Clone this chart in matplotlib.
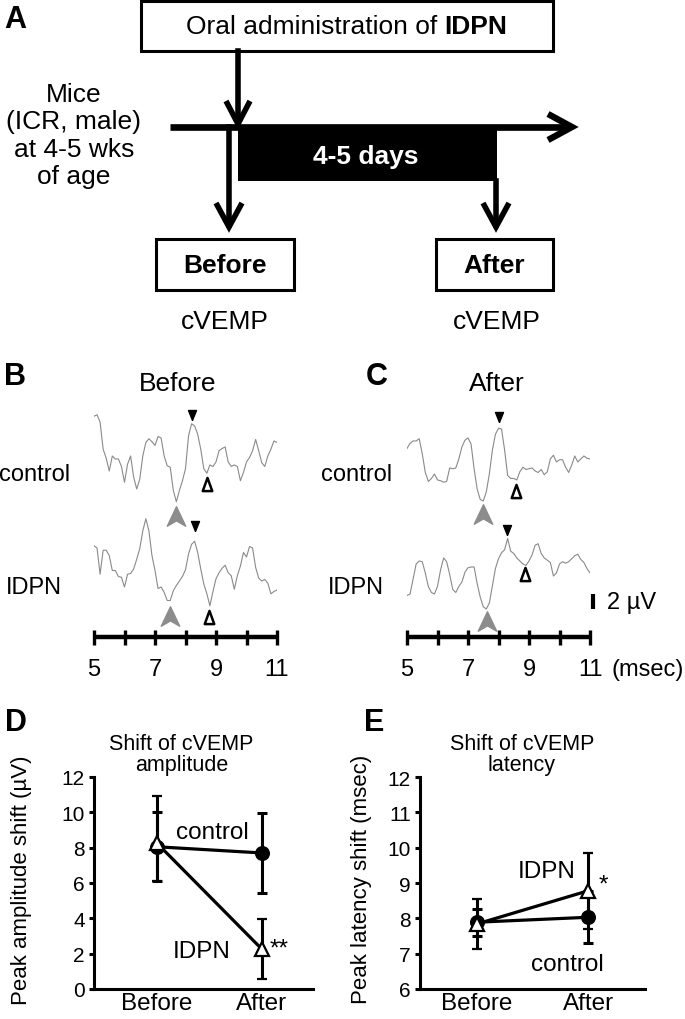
import numpy as np
import matplotlib
matplotlib.use("Agg")
import matplotlib.pyplot as plt
from matplotlib.patches import Rectangle
from matplotlib.path import Path

plt.rcParams['font.family'] = ['Liberation Sans', 'DejaVu Sans']

# --- cVEMP traces (uV), sampled every 0.1 ms between 5 and 11 ms ---
trace_t = np.round(np.arange(5.0, 11.01, 0.1), 2)

before_control = [5.7, 5.9, 4.9, 1.3, 0.1, -1.6, 0.4, 0.0, 0.0, -1.0,
                  -3.1, -0.7, 0.4, -2.4, -4.0, -2.7, 0.4, 2.2, 2.7, 2.3,
                  1.8, 3.0, 2.8, 0.4, -0.9, -1.1, -4.2, -5.7, -4.2, -2.9,
                  -1.3, 3.1, 4.7, 4.4, 3.3, 1.3, -1.3, -1.9, -0.8, -1.0,
                  -0.4, 1.1, 1.4, 1.6, -0.4, -1.0, -0.8, -1.0, -2.9, -1.8,
                  -0.4, 0.2, 1.1, 2.6, 1.1, -0.5, -1.0, 0.4, 1.3, 2.4, 2.2]
before_idpn = [3.1, 2.8, -0.7, 2.5, 2.5, 1.8, -0.2, -0.2, -1.0, -1.1,
               -2.4, -0.7, -0.6, 0.0, 1.3, 2.7, 5.1, 6.7, 5.1, 1.8,
               -0.2, -2.6, -2.4, -3.1, -4.2, -4.2, -2.9, -2.2, -1.6, -1.0,
               -0.1, 2.0, 3.3, 3.7, 2.2, 0.0, -2.0, -3.3, -4.9, -3.0,
               -1.3, -0.5, 0.1, 0.5, -0.5, -0.9, -2.7, -0.9, 0.4, 2.2,
               1.6, 3.0, 2.8, 0.2, -1.2, -1.6, -1.4, -1.9, -3.3, -3.0, -2.8]
after_control = [1.4, 2.1, 2.4, 2.4, 2.7, 0.7, -1.8, -3.0, -2.6, -2.0,
                 -2.8, -2.9, -3.1, -3.0, -1.2, -1.3, -1.2, 0.0, 1.6, 2.5,
                 2.8, 2.0, -1.3, -4.0, -5.4, -5.6, -4.4, -2.0, 1.2, 3.3,
                 4.1, 4.0, 1.2, -2.2, -2.6, -2.6, -2.8, -1.7, -1.1, -1.4,
                 -1.3, -1.2, -1.6, -1.8, -1.4, -2.1, -1.7, 0.0, 0.5, -0.4,
                 -0.1, -0.1, -1.1, -1.8, -0.8, 0.4, -0.4, 0.0, 0.4, 0.1, 0.0]
after_idpn = [-2.6, -2.4, -0.4, 1.6, 2.0, 1.9, 0.4, -1.4, -2.2, -2.4,
              -1.4, 0.8, 2.4, 1.9, 0.2, -1.8, -2.2, -1.4, -0.8, 0.5,
              1.1, 1.2, 1.2, -1.0, -2.8, -4.1, -4.4, -3.6, -1.3, 1.0,
              2.3, 3.1, 3.5, 5.0, 3.3, 3.0, 2.4, 2.0, 1.6, 1.4,
              2.0, 2.8, 4.1, 4.3, 3.0, 2.4, 2.1, 1.8, 0.0, 0.4,
              1.6, 1.9, 1.7, 1.9, 2.3, 2.7, 2.9, 2.2, 1.8, 1.0, 0.4]

# marker positions: (before ctrl, before idpn, after ctrl, after idpn)
peak_t = [8.21, 8.31, 8.02, 8.28]
peak_v = [5.9, 5.7, 5.6, 6.1]
trough_t = [8.70, 8.77, 8.57, 8.87]
trough_v = [-3.3, -6.4, -4.3, 0.3]
onset_t = [7.69, 7.49, 7.49, 7.62]
onset_v = [-7.6, -6.3, -7.3, -6.0]

time_ticks = [5, 6, 7, 8, 9, 10, 11]
time_labels = [5, 7, 9, 11]

# --- shift panels ---
groups = ['Before', 'After']
amp_control = [8.05, 7.7]
amp_control_err = [1.95, 2.25]
amp_idpn = [8.25, 2.25]
amp_idpn_err_lo = [2.15, 1.7]
amp_idpn_err_hi = [2.65, 1.7]
lat_control = [7.89, 8.03]
lat_control_err = [0.38, 0.73]
lat_idpn = [7.84, 8.78]
lat_idpn_err = [0.72, 1.08]

W, H = 685, 1020
fig = plt.figure(figsize=(6.85, 10.2), dpi=100)

# full-figure canvas in pixel coordinates for the schematic and labels
ax0 = fig.add_axes([0, 0, 1, 1])
ax0.set_xlim(0, W)
ax0.set_ylim(H, 0)
ax0.axis('off')

FS = 17
FSA = 19
BOLD_LBL = dict(fontsize=22, fontweight='bold', ha='center', va='center')


def chevron(ax, pts, lw):
    xs, ys = zip(*pts)
    ax.plot(xs, ys, color='black', lw=lw, solid_joinstyle='miter',
            solid_capstyle='butt')


# ---- Panel A ----
ax0.text(15, 20, 'A', **BOLD_LBL)
ax0.add_patch(Rectangle((141, 2), 412, 50, fill=False, lw=2.2, ec='black'))
t1 = ax0.text(186, 27, 'Oral administration of ', fontsize=FSA,
              ha='left', va='center')
ax0.annotate('IDPN', xy=(1, 0), xycoords=t1, fontsize=FSA,
             fontweight='bold', ha='left', va='bottom')

ax0.plot([238, 238], [52, 124], color='black', lw=4.0)
chevron(ax0, [(226, 102), (238, 125), (250, 102)], 4.0)

ax0.text(74, 136, 'Mice\n(ICR, male)\nat 4-5 wks\nof age', fontsize=FSA,
         ha='center', va='center', multialignment='center', linespacing=1.17)

ax0.plot([170, 570], [128, 128], color='black', lw=4.8,
         solid_capstyle='butt')
chevron(ax0, [(548, 115), (572, 128), (548, 141)], 4.6)
ax0.add_patch(Rectangle((238, 128), 259, 54, color='black', lw=0))
ax0.text(366, 157, '4-5 days', fontsize=19, fontweight='bold',
         color='white', ha='center', va='center')

ax0.plot([229, 229], [128, 226], color='black', lw=4.0)
chevron(ax0, [(216, 204), (229, 228), (242, 204)], 4.0)
ax0.plot([496, 496], [182, 226], color='black', lw=4.0)
chevron(ax0, [(483, 204), (496, 228), (509, 204)], 4.0)

ax0.add_patch(Rectangle((156, 240), 138, 51, fill=False, lw=2.2, ec='black'))
ax0.add_patch(Rectangle((436, 240), 117, 51, fill=False, lw=2.2, ec='black'))
ax0.text(225, 266, 'Before', fontsize=FSA, fontweight='bold',
         ha='center', va='center')
ax0.text(494, 266, 'After', fontsize=FSA, fontweight='bold',
         ha='center', va='center')
ax0.text(225, 322, 'cVEMP', fontsize=FSA, ha='center', va='center')
ax0.text(497, 322, 'cVEMP', fontsize=FSA, ha='center', va='center')

# ---- Panels B and C labels ----
ax0.text(15, 377, 'B', **BOLD_LBL)
ax0.text(377, 377, 'C', **BOLD_LBL)
ax0.text(178, 384, 'Before', fontsize=FSA, ha='center', va='center')
ax0.text(497, 384, 'After', fontsize=FSA, ha='center', va='center')
for xc in (35, 357):
    ax0.text(xc, 475, 'control', fontsize=FS, ha='center', va='center')
    ax0.text(xc - 1, 588, 'IDPN', fontsize=FS, ha='center', va='center')
ax0.text(16, 723, 'D', **BOLD_LBL)
ax0.text(374, 723, 'E', **BOLD_LBL)

# custom markers
m_peak = Path([(0, -1), (-0.8, 1), (0.8, 1), (0, -1)])
m_trough = Path([(0, 1), (-0.72, -1), (0.72, -1), (0, 1)],
                [Path.MOVETO, Path.LINETO, Path.LINETO, Path.CLOSEPOLY])
m_onset = Path([(0, 1), (0.95, -1), (0, -0.45), (-0.95, -1), (0, 1)],
               [Path.MOVETO, Path.LINETO, Path.LINETO, Path.LINETO,
                Path.CLOSEPOLY])

PX_PER_UV = 7.5
TOP, BOT = 395, 690
ytop = (BOT - TOP) / PX_PER_UV


def trace_axes(left_px, traces, bases, idx):
    ax = fig.add_axes([left_px / W, (H - BOT) / H, 183 / W, (BOT - TOP) / H])
    ax.set_xlim(5, 11)
    ax.set_ylim(0, ytop)
    ax.axis('off')
    for tr, base, i in zip(traces, bases, idx):
        ax.plot(trace_t, np.array(tr) + base, color='#8a8a8a', lw=0.8)
        ax.plot(peak_t[i], peak_v[i] + base, marker=m_peak, ms=7.2,
                color='black', ls='none')
        ax.plot(trough_t[i], trough_v[i] + base, marker=m_trough, ms=9.5,
                mfc='white', mec='black', mew=1.8, ls='none')
        ax.plot(onset_t[i], onset_v[i] + base, marker=m_onset, ms=14,
                color='#8c8c8c', mec='#8c8c8c', ls='none', clip_on=False)
    bar_y = (BOT - 638) / PX_PER_UV
    ax.plot([5, 11], [bar_y, bar_y], color='black', lw=3.2,
            solid_capstyle='butt', clip_on=False)
    for tk in time_ticks:
        ax.plot([tk, tk], [bar_y - 1, bar_y + 1], color='black', lw=2.4,
                solid_capstyle='butt', clip_on=False)
    lab_y = (BOT - 670) / PX_PER_UV
    for tk in time_labels:
        ax.text(tk, lab_y, str(tk), fontsize=FS, ha='center', va='center')
    return ax, lab_y


axB, _ = trace_axes(94, [before_control, before_idpn], [30.67, 16.0], [0, 1])
axC, lab_y = trace_axes(407, [after_control, after_idpn], [30.67, 15.07], [2, 3])
axC.plot([11.1, 11.1], [10.67, 12.67], color='black', lw=3.0,
         solid_capstyle='butt', clip_on=False)
axC.text(11.56, 11.6, '2 \u00b5V', fontsize=FS, ha='left', va='center',
         clip_on=False)
axC.text(11.72, lab_y, '(msec)', fontsize=FS, ha='left', va='center',
         clip_on=False)


# ---- Panels D and E ----
def shift_axes(rect, ctrl, ctrl_err, idpn, idpn_err, ylim, yticks,
               xlim, ylabel, title, title_x, ylabel_x):
    ax = fig.add_axes(rect)
    x = [0, 1]
    ax.errorbar(x, ctrl, yerr=ctrl_err, fmt='-o', color='black',
                mfc='black', ms=9.8, lw=2.3, elinewidth=2.2, capsize=3.6,
                capthick=2.2, zorder=2)
    ax.errorbar(x, idpn, yerr=idpn_err, fmt='-^', color='black',
                mfc='white', mec='black', mew=1.6, ms=10.5, lw=2.3,
                elinewidth=2.2, capsize=3.6, capthick=2.2, zorder=3)
    ax.set_xlim(*xlim)
    ax.set_ylim(*ylim)
    ax.set_yticks(yticks)
    ax.set_xticks(x)
    ax.set_xticklabels(groups)
    ax.tick_params(axis='x', length=0, pad=2, labelsize=17.5)
    ax.tick_params(axis='y', direction='out', length=3.6, width=2.2,
                   pad=3, labelsize=15)
    for s in ('top', 'right'):
        ax.spines[s].set_visible(False)
    for s in ('left', 'bottom'):
        ax.spines[s].set_linewidth(2.2)
    ax.set_ylabel(ylabel, fontsize=16)
    ax.yaxis.set_label_coords(ylabel_x, 0.52)
    ax.text(title_x, 1.01, title, transform=ax.transAxes, fontsize=15.5,
            ha='center', va='bottom', multialignment='center',
            linespacing=1.0)
    return ax


axD = shift_axes([94 / W, 30 / H, 219 / W, 212 / H], amp_control,
                 amp_control_err, amp_idpn, [amp_idpn_err_lo, amp_idpn_err_hi],
                 (0, 12), range(0, 13, 2), (-0.6, 1.486),
                 'Peak amplitude shift (\u00b5V)',
                 'Shift of cVEMP\namplitude', 0.40, -0.283)
axD.text(0.53, 8.9, 'control', fontsize=17.5, ha='center', va='center')
axD.text(0.43, 2.15, 'IDPN', fontsize=17.5, ha='center', va='center')
axD.text(1.16, 2.3, '**', fontsize=17.5, ha='center', va='center')

axE = shift_axes([420 / W, 30 / H, 225 / W, 212 / H], lat_control,
                 lat_control_err, lat_idpn, lat_idpn_err,
                 (6, 12), range(6, 13), (-0.51, 1.51),
                 'Peak latency shift (msec)',
                 'Shift of cVEMP\nlatency', 0.453, -0.213)
axE.text(0.63, 9.34, 'IDPN', fontsize=17.5, ha='center', va='center')
axE.text(0.81, 6.71, 'control', fontsize=17.5, ha='center', va='center')
axE.text(1.14, 8.95, '*', fontsize=17.5, ha='center', va='center')

fig.savefig('out.png', dpi=100)
